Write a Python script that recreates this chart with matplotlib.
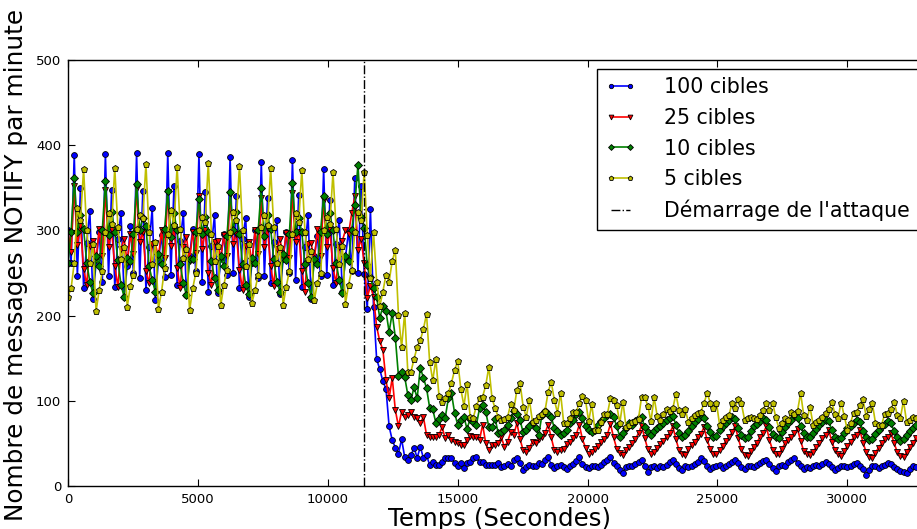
import matplotlib
matplotlib.use("Agg")
import matplotlib.pyplot as plt

# Sampling period of the measurements (seconds)
step_s = 120
attack_time = 11400

blue_100 = [
    300, 262, 389, 246, 350, 232, 285, 323, 220, 262,
    298, 240, 390, 246, 348, 234, 290, 321, 222, 258,
    305, 250, 391, 244, 346, 230, 280, 326, 218, 265,
    295, 245, 391, 248, 352, 236, 288, 320, 224, 270,
    302, 252, 390, 240, 345, 228, 282, 318, 226, 268,
    296, 248, 386, 250, 340, 232, 290, 315, 222, 262,
    300, 244, 380, 246, 338, 238, 286, 312, 225, 266,
    298, 250, 383, 242, 342, 234, 280, 318, 220, 270,
    294, 246, 372, 248, 336, 236, 284, 312, 228, 268,
    300, 252, 362, 250, 352, 249, 208, 325, 210, 149,
    137, 123, 114, 70, 54, 45, 38, 55, 34, 30,
    36, 45, 33, 46, 33, 36, 25, 28, 25, 25,
    28, 33, 33, 33, 27, 23, 27, 21, 27, 28,
    33, 34, 28, 28, 25, 25, 25, 25, 27, 22,
    24, 26, 23, 30, 33, 27, 19, 22, 25, 23,
    24, 27, 26, 30, 34, 25, 21, 23, 25, 22,
    20, 24, 26, 29, 34, 26, 22, 21, 24, 23,
    22, 25, 28, 31, 34, 27, 23, 19, 15, 22,
    24, 23, 26, 28, 30, 24, 17, 22, 24, 21,
    23, 22, 25, 28, 30, 26, 21, 19, 23, 22,
    24, 26, 28, 33, 29, 23, 20, 22, 24, 25,
    21, 23, 26, 28, 30, 27, 22, 20, 23, 24,
    22, 25, 27, 29, 31, 26, 21, 18, 23, 25,
    24, 28, 30, 33, 27, 23, 20, 22, 21, 24,
    25, 23, 26, 28, 26, 22, 19, 21, 24, 23,
    22, 24, 26, 27, 24, 20, 13, 19, 23, 24,
    21, 23, 25, 27, 26, 22, 20, 18, 17, 15,
    20, 23, 22,
]

red_25 = [
    298, 275, 352, 283, 305, 255, 236, 282, 288, 265,
    302, 270, 348, 280, 300, 258, 234, 278, 290, 262,
    296, 272, 350, 286, 298, 252, 238, 284, 285, 268,
    300, 268, 345, 282, 304, 256, 232, 280, 292, 264,
    298, 274, 340, 278, 300, 250, 236, 286, 288, 266,
    295, 270, 342, 284, 296, 254, 230, 282, 286, 262,
    300, 272, 338, 280, 302, 258, 235, 278, 290, 268,
    297, 268, 344, 286, 298, 252, 228, 284, 285, 264,
    302, 270, 336, 280, 300, 256, 238, 280, 288, 300,
    296, 320, 340, 277, 290, 262, 221, 235, 222, 187,
    170, 160, 124, 103, 127, 89, 70, 87, 81, 83,
    87, 81, 80, 74, 81, 60, 57, 57, 57, 60,
    69, 56, 60, 54, 52, 50, 48, 48, 54, 59,
    57, 57, 54, 72, 50, 42, 48, 48, 50, 57,
    46, 52, 63, 60, 74, 55, 42, 40, 45, 52,
    50, 55, 58, 62, 72, 57, 42, 40, 42, 44,
    49, 52, 56, 60, 72, 55, 45, 38, 40, 43,
    47, 52, 55, 60, 73, 57, 44, 39, 36, 42,
    46, 50, 55, 62, 71, 56, 43, 37, 40, 45,
    49, 53, 58, 62, 70, 55, 42, 37, 36, 43,
    48, 52, 57, 61, 69, 54, 44, 38, 37, 42,
    47, 53, 57, 63, 70, 56, 43, 36, 35, 41,
    46, 51, 58, 62, 70, 54, 42, 38, 37, 44,
    50, 54, 58, 62, 67, 53, 41, 37, 36, 40,
    46, 50, 56, 60, 66, 52, 42, 38, 35, 41,
    47, 52, 57, 60, 66, 51, 40, 34, 33, 39,
    45, 50, 55, 58, 62, 50, 40, 35, 34, 40,
    46, 51, 56,
]

green_10 = [
    262, 298, 362, 298, 318, 302, 262, 240, 226, 270,
    258, 300, 358, 295, 322, 298, 265, 236, 222, 268,
    264, 296, 355, 300, 315, 305, 258, 242, 228, 272,
    260, 302, 346, 292, 320, 300, 260, 238, 224, 266,
    266, 298, 337, 296, 316, 298, 264, 244, 230, 270,
    258, 294, 345, 300, 322, 296, 260, 236, 225, 268,
    262, 300, 350, 294, 318, 302, 266, 240, 228, 272,
    265, 296, 356, 298, 314, 298, 260, 238, 222, 266,
    260, 298, 340, 296, 320, 300, 262, 242, 226, 270,
    264, 300, 330, 377, 316, 303, 259, 245, 232, 222,
    197, 211, 205, 181, 203, 174, 129, 134, 128, 107,
    101, 116, 103, 139, 127, 115, 92, 90, 74, 79,
    83, 80, 103, 109, 86, 72, 77, 81, 67, 79,
    75, 72, 91, 95, 87, 69, 69, 79, 62, 63,
    66, 72, 80, 88, 85, 77, 63, 66, 70, 75,
    68, 60, 83, 88, 84, 81, 68, 64, 60, 62,
    66, 74, 78, 84, 87, 80, 70, 66, 63, 66,
    72, 76, 80, 83, 85, 81, 70, 58, 62, 68,
    74, 72, 76, 80, 81, 69, 63, 60, 64, 68,
    70, 74, 78, 80, 82, 72, 62, 58, 60, 65,
    70, 75, 79, 83, 80, 70, 63, 57, 59, 66,
    71, 74, 77, 81, 79, 68, 60, 56, 58, 64,
    70, 73, 76, 80, 78, 69, 61, 57, 56, 63,
    69, 74, 78, 83, 80, 70, 62, 58, 57, 62,
    67, 72, 75, 78, 76, 66, 58, 55, 56, 62,
    68, 71, 74, 77, 75, 65, 57, 54, 55, 61,
    66, 70, 73, 76, 74, 64, 57, 53, 55, 60,
    64, 68, 72,
]

yellow_5 = [
    222, 232, 262, 326, 312, 372, 300, 262, 284, 205,
    230, 252, 298, 320, 308, 373, 304, 266, 280, 210,
    235, 248, 302, 318, 314, 378, 298, 260, 286, 208,
    228, 256, 296, 324, 306, 375, 302, 268, 278, 206,
    232, 250, 300, 316, 310, 379, 296, 264, 282, 212,
    236, 254, 298, 322, 312, 376, 300, 258, 284, 215,
    230, 248, 304, 318, 306, 373, 304, 262, 280, 212,
    234, 252, 296, 320, 310, 371, 298, 266, 276, 218,
    238, 250, 300, 316, 308, 368, 302, 260, 282, 214,
    236, 254, 298, 322, 312, 369, 295, 244, 298, 240,
    211, 228, 248, 240, 264, 277, 201, 163, 203, 134,
    134, 149, 163, 171, 184, 202, 146, 124, 149, 106,
    99, 103, 109, 121, 136, 147, 114, 94, 120, 81,
    80, 94, 103, 105, 118, 140, 103, 91, 81, 77,
    79, 81, 96, 89, 113, 121, 93, 81, 101, 75,
    78, 82, 85, 88, 110, 122, 101, 86, 109, 74,
    74, 80, 87, 87, 97, 106, 101, 76, 96, 66,
    66, 75, 84, 84, 103, 101, 95, 74, 99, 69,
    72, 75, 76, 79, 105, 104, 94, 76, 104, 82,
    78, 85, 90, 88, 91, 108, 89, 85, 90, 75,
    80, 83, 86, 87, 97, 109, 98, 92, 98, 72,
    78, 81, 83, 97, 92, 102, 97, 78, 80, 81,
    80, 79, 83, 89, 98, 89, 98, 81, 68, 74,
    80, 77, 87, 85, 88, 109, 83, 77, 93, 72,
    75, 78, 81, 86, 90, 99, 84, 80, 98, 82,
    66, 74, 86, 87, 95, 102, 82, 90, 97, 74,
    72, 72, 85, 86, 90, 99, 83, 80, 100, 75,
    78, 81, 80,
]

labels = ["100 cibles", "25 cibles", "10 cibles", "5 cibles"]
attack_label = "Démarrage de l'attaque"
x_ticks = [0, 5000, 10000, 15000, 20000, 25000, 30000]
y_ticks = [0, 100, 200, 300, 400, 500]

times = [i * step_s for i in range(len(blue_100))]

plt.rcParams['font.family'] = ['DejaVu Sans']

W, H = 917, 529
fig = plt.figure(figsize=(W / 100, H / 100), dpi=100)
x_max = 33180
ax = fig.add_axes([68 / W, 43 / H, 862 / W, 426 / H])

styles = [
    (blue_100, '#0000ff', 'o', 4.2),
    (red_25, '#ff0000', 'v', 4.6),
    (green_10, '#008000', 'D', 4.0),
    (yellow_5, '#bfbf00', 'p', 4.6),
]
handles = []
for (vals, col, mk, ms), lab in zip(styles, labels):
    h, = ax.plot(times, vals, color=col, marker=mk, markersize=ms,
                 markeredgecolor='black', markeredgewidth=0.6,
                 linewidth=1.2, label=lab)
    handles.append(h)

vl = ax.axvline(attack_time, color='black', linestyle='-.', linewidth=1.0,
                label=attack_label)
handles.append(vl)

ax.set_xlim(0, x_max)
ax.set_ylim(0, 500)
ax.set_xticks(x_ticks)
ax.set_yticks(y_ticks)
ax.tick_params(direction='in', top=True, right=True, length=5, width=0.8,
               labelsize=9.5, pad=5)
for sp in ax.spines.values():
    sp.set_linewidth(1.0)

ax.set_xlabel("Temps (Secondes)", fontsize=17.6, labelpad=0.5)
ax.set_ylabel("Nombre de messages NOTIFY par minute", fontsize=17.8)
ax.yaxis.set_label_coords(-0.046, 0.519)

leg = fig.legend(handles=handles, loc='upper left',
                 bbox_to_anchor=(597 / W, 1 - 69 / H),
                 bbox_transform=fig.transFigure,
                 fontsize=14.8, frameon=True, fancybox=False, shadow=False,
                 framealpha=1, edgecolor='black', borderpad=0.4,
                 labelspacing=0.52, handlelength=1.5, handletextpad=1.35,
                 borderaxespad=0, numpoints=2, markerscale=0.75)
leg.get_frame().set_linewidth(1.0)

fig.savefig("out.png", dpi=100)
